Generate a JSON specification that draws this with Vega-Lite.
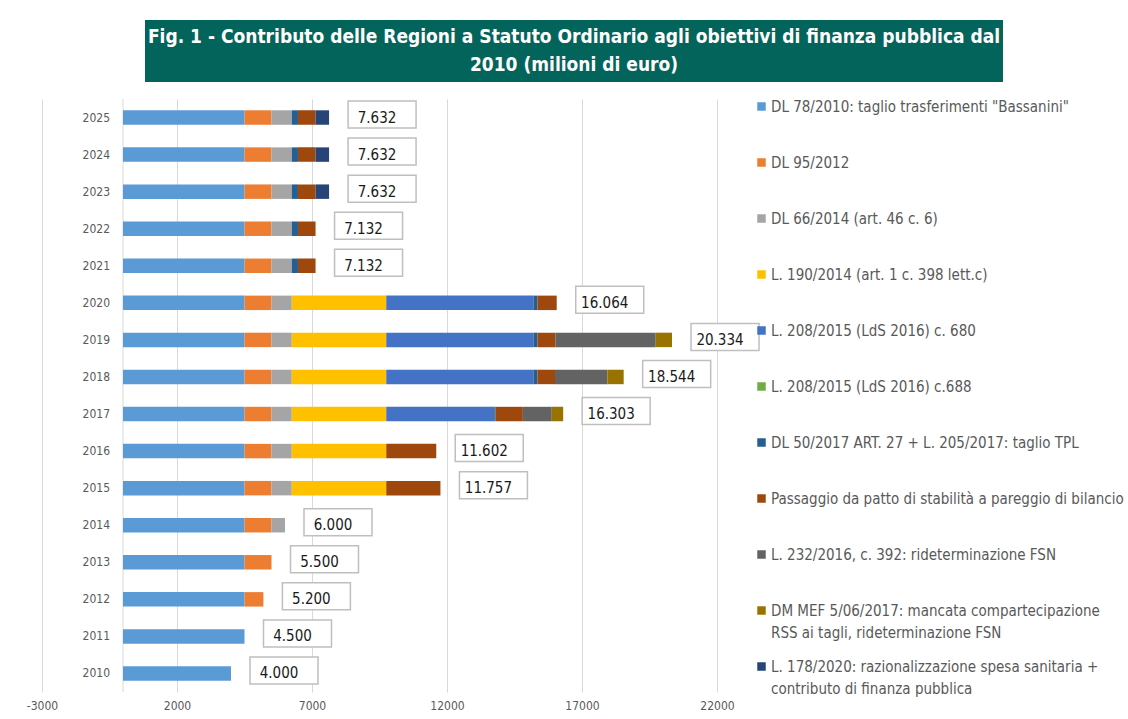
{
  "$schema": "https://vega.github.io/schema/vega-lite/v6.json",
  "background": "white",
  "padding": {"left": 26, "top": 20, "right": 0, "bottom": 0},
  "config": {
    "view": {"stroke": null},
    "font": "DejaVu Sans Condensed",
    "locale": {"number": {"decimal": ",", "thousands": ".", "grouping": [3], "currency": ["€", ""], "minus": "-"}},
    "style": {"guide-label": {"lineHeight": 22}}
  },
  "datasets": {
    "voci": [
      {"k": "a", "voce": "DL 78/2010: taglio trasferimenti \"Bassanini\""},
      {"k": "b", "voce": "DL 95/2012"},
      {"k": "c", "voce": "DL 66/2014 (art. 46 c. 6)"},
      {"k": "d", "voce": "L. 190/2014 (art. 1 c. 398 lett.c)"},
      {"k": "e", "voce": "L. 208/2015 (LdS 2016) c. 680"},
      {"k": "f", "voce": "L. 208/2015 (LdS 2016) c.688"},
      {"k": "g", "voce": "DL 50/2017 ART. 27 + L. 205/2017: taglio TPL"},
      {"k": "h", "voce": "Passaggio da patto di stabilità a pareggio di bilancio"},
      {"k": "i", "voce": "L. 232/2016, c. 392: rideterminazione FSN"},
      {"k": "j", "voce": "DM MEF 5/06/2017: mancata compartecipazione RSS ai tagli, rideterminazione FSN"},
      {"k": "l", "voce": "L. 178/2020: razionalizzazione spesa sanitaria + contributo di finanza pubblica"}
    ],
    "righe": [
      {"anno": 2010, "k": "a", "valore": 4000},
      {"anno": 2011, "k": "a", "valore": 4500},
      {"anno": 2012, "k": "a", "valore": 4500},
      {"anno": 2012, "k": "b", "valore": 700},
      {"anno": 2013, "k": "a", "valore": 4500},
      {"anno": 2013, "k": "b", "valore": 1000},
      {"anno": 2014, "k": "a", "valore": 4500},
      {"anno": 2014, "k": "b", "valore": 1000},
      {"anno": 2014, "k": "c", "valore": 500},
      {"anno": 2015, "k": "a", "valore": 4500},
      {"anno": 2015, "k": "b", "valore": 1000},
      {"anno": 2015, "k": "c", "valore": 750},
      {"anno": 2015, "k": "d", "valore": 3500},
      {"anno": 2015, "k": "h", "valore": 2007},
      {"anno": 2016, "k": "a", "valore": 4500},
      {"anno": 2016, "k": "b", "valore": 1000},
      {"anno": 2016, "k": "c", "valore": 750},
      {"anno": 2016, "k": "d", "valore": 3500},
      {"anno": 2016, "k": "h", "valore": 1852},
      {"anno": 2017, "k": "a", "valore": 4500},
      {"anno": 2017, "k": "b", "valore": 1000},
      {"anno": 2017, "k": "c", "valore": 750},
      {"anno": 2017, "k": "d", "valore": 3500},
      {"anno": 2017, "k": "e", "valore": 4000},
      {"anno": 2017, "k": "g", "valore": 50},
      {"anno": 2017, "k": "h", "valore": 1010},
      {"anno": 2017, "k": "i", "valore": 1070},
      {"anno": 2017, "k": "j", "valore": 423},
      {"anno": 2018, "k": "a", "valore": 4500},
      {"anno": 2018, "k": "b", "valore": 1000},
      {"anno": 2018, "k": "c", "valore": 750},
      {"anno": 2018, "k": "d", "valore": 3500},
      {"anno": 2018, "k": "e", "valore": 5450},
      {"anno": 2018, "k": "g", "valore": 150},
      {"anno": 2018, "k": "h", "valore": 650},
      {"anno": 2018, "k": "i", "valore": 1940},
      {"anno": 2018, "k": "j", "valore": 604},
      {"anno": 2019, "k": "a", "valore": 4500},
      {"anno": 2019, "k": "b", "valore": 1000},
      {"anno": 2019, "k": "c", "valore": 750},
      {"anno": 2019, "k": "d", "valore": 3500},
      {"anno": 2019, "k": "e", "valore": 5450},
      {"anno": 2019, "k": "g", "valore": 150},
      {"anno": 2019, "k": "h", "valore": 664},
      {"anno": 2019, "k": "i", "valore": 3716},
      {"anno": 2019, "k": "j", "valore": 604},
      {"anno": 2020, "k": "a", "valore": 4500},
      {"anno": 2020, "k": "b", "valore": 1000},
      {"anno": 2020, "k": "c", "valore": 750},
      {"anno": 2020, "k": "d", "valore": 3500},
      {"anno": 2020, "k": "e", "valore": 5450},
      {"anno": 2020, "k": "g", "valore": 150},
      {"anno": 2020, "k": "h", "valore": 714},
      {"anno": 2021, "k": "a", "valore": 4500},
      {"anno": 2021, "k": "b", "valore": 1000},
      {"anno": 2021, "k": "c", "valore": 750},
      {"anno": 2021, "k": "g", "valore": 230},
      {"anno": 2021, "k": "h", "valore": 652},
      {"anno": 2022, "k": "a", "valore": 4500},
      {"anno": 2022, "k": "b", "valore": 1000},
      {"anno": 2022, "k": "c", "valore": 750},
      {"anno": 2022, "k": "g", "valore": 230},
      {"anno": 2022, "k": "h", "valore": 652},
      {"anno": 2023, "k": "a", "valore": 4500},
      {"anno": 2023, "k": "b", "valore": 1000},
      {"anno": 2023, "k": "c", "valore": 750},
      {"anno": 2023, "k": "g", "valore": 230},
      {"anno": 2023, "k": "h", "valore": 652},
      {"anno": 2023, "k": "l", "valore": 500},
      {"anno": 2024, "k": "a", "valore": 4500},
      {"anno": 2024, "k": "b", "valore": 1000},
      {"anno": 2024, "k": "c", "valore": 750},
      {"anno": 2024, "k": "g", "valore": 230},
      {"anno": 2024, "k": "h", "valore": 652},
      {"anno": 2024, "k": "l", "valore": 500},
      {"anno": 2025, "k": "a", "valore": 4500},
      {"anno": 2025, "k": "b", "valore": 1000},
      {"anno": 2025, "k": "c", "valore": 750},
      {"anno": 2025, "k": "g", "valore": 230},
      {"anno": 2025, "k": "h", "valore": 652},
      {"anno": 2025, "k": "l", "valore": 500}
    ]
  },
  "spacing": 16,
  "vconcat": [
    {
      "spacing": 0,
      "bounds": "flush",
      "hconcat": [
        {
          "width": 103,
          "height": 62,
          "data": {"values": [{}]},
          "mark": {"type": "point", "opacity": 0},
          "encoding": {}
        },
        {
          "width": 858,
          "height": 62,
          "view": {"fill": "#03645C", "stroke": null},
          "data": {"values": [{}]},
          "mark": {
            "type": "text",
            "text": ["Fig. 1 - Contributo delle Regioni a Statuto Ordinario agli obiettivi di finanza pubblica dal", "2010 (milioni di euro)"],
            "color": "white",
            "fontSize": 19,
            "fontWeight": "bold",
            "lineHeight": 28,
            "dy": -14,
            "align": "center",
            "baseline": "middle"
          },
          "encoding": {}
        }
      ]
    },
    {
      "width": 675,
      "height": 593,
      "data": {"name": "righe"},
      "transform": [
        {"lookup": "k", "from": {"data": {"name": "voci"}, "key": "k", "fields": ["voce"]}}
      ],
      "layer": [
        {
          "data": {"values": [{}]},
          "mark": {"type": "rule", "color": "#D9D9D9", "strokeWidth": 1},
          "encoding": {"x": {"datum": 0, "type": "quantitative"}}
        },
        {
          "mark": {"type": "bar"},
          "encoding": {
            "y": {
              "field": "anno",
              "type": "ordinal",
              "sort": "descending",
              "axis": null,
              "scale": {"paddingInner": 0.61, "paddingOuter": 0.305}
            },
            "x": {
              "field": "valore",
              "type": "quantitative",
              "stack": "zero",
              "title": null,
              "scale": {"domain": [-3000, 22000], "nice": false, "zero": false},
              "axis": {
                "values": [-3000, 2000, 7000, 12000, 17000, 22000],
                "format": "d",
                "grid": true,
                "gridColor": "#D9D9D9",
                "gridWidth": 1,
                "domain": false,
                "ticks": false,
                "labelFlush": false,
                "labelColor": "#595959",
                "labelFontSize": 12,
                "labelPadding": 8,
                "title": null
              }
            },
            "color": {
              "field": "voce",
              "type": "nominal",
              "scale": {
                "domain": [
                  "DL 78/2010: taglio trasferimenti \"Bassanini\"",
                  "DL 95/2012",
                  "DL 66/2014 (art. 46 c. 6)",
                  "L. 190/2014 (art. 1 c. 398 lett.c)",
                  "L. 208/2015 (LdS 2016) c. 680",
                  "L. 208/2015 (LdS 2016) c.688",
                  "DL 50/2017 ART. 27 + L. 205/2017: taglio TPL",
                  "Passaggio da patto di stabilità a pareggio di bilancio",
                  "L. 232/2016, c. 392: rideterminazione FSN",
                  "DM MEF 5/06/2017: mancata compartecipazione RSS ai tagli, rideterminazione FSN",
                  "L. 178/2020: razionalizzazione spesa sanitaria + contributo di finanza pubblica"
                ],
                "range": ["#5B9BD5", "#ED7D31", "#A5A5A5", "#FFC000", "#4472C4", "#70AD47", "#255E91", "#9E480E", "#636363", "#997300", "#264478"]
              },
              "legend": {
                "title": null,
                "orient": "none",
                "legendX": 712,
                "legendY": 79,
                "padding": 0,
                "direction": "vertical",
                "symbolType": "square",
                "symbolSize": 72,
                "symbolStrokeWidth": 0,
                "labelFontSize": 15,
                "labelColor": "#595959",
                "labelOffset": 2,
                "labelLimit": 500,
                "gridAlign": "all",
                "rowPadding": 18,
                "labelExpr": "split(replace(replace(datum.label, 'compartecipazione RSS', 'compartecipazione|RSS'), 'sanitaria + contributo', 'sanitaria +|contributo'), '|')"
              }
            },
            "order": {"field": "k", "sort": "ascending"}
          }
        },
        {
          "transform": [
            {"aggregate": [{"op": "sum", "field": "valore", "as": "totale"}], "groupby": ["anno"]}
          ],
          "layer": [
            {
              "mark": {
                "type": "point",
                "shape": "M-1,-0.397H1V0.397H-1Z",
                "size": 4624,
                "filled": true,
                "fill": "white",
                "stroke": "#BFBFBF",
                "strokeWidth": 1.5,
                "opacity": 1,
                "xOffset": 53,
                "yOffset": -3
              },
              "encoding": {
                "x": {"field": "totale", "type": "quantitative", "title": null},
                "y": {"field": "anno", "type": "ordinal", "sort": "descending"}
              }
            },
            {
              "mark": {"type": "text", "fontSize": 15, "color": "#1A1A1A", "dx": 48, "align": "center", "baseline": "middle"},
              "encoding": {
                "x": {"field": "totale", "type": "quantitative", "title": null},
                "y": {"field": "anno", "type": "ordinal", "sort": "descending"},
                "text": {"field": "totale", "type": "quantitative", "format": ",d"}
              }
            },
            {
              "mark": {"type": "text", "fontSize": 12, "color": "#595959", "dx": -13, "align": "right", "baseline": "middle"},
              "encoding": {
                "x": {"datum": 0, "type": "quantitative"},
                "y": {"field": "anno", "type": "ordinal", "sort": "descending"},
                "text": {"field": "anno", "type": "nominal"}
              }
            }
          ]
        }
      ]
    }
  ]
}
